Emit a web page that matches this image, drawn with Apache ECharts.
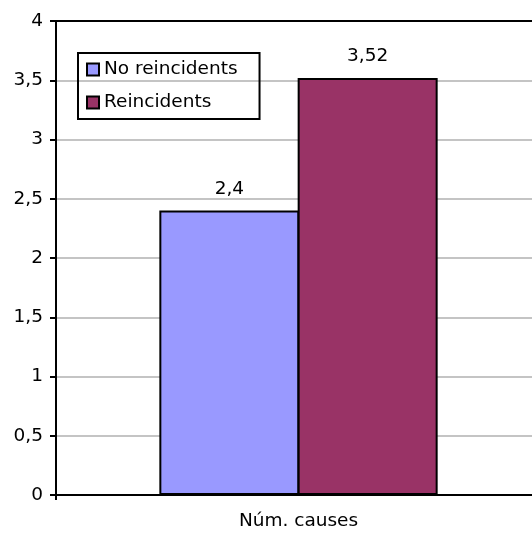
<!DOCTYPE html>
<html><head><meta charset="utf-8">
<script src="https://cdn.jsdelivr.net/npm/echarts@6/dist/echarts.min.js"></script>
<style>html,body{margin:0;padding:0;background:#fff;overflow:hidden}#c{width:560px;height:534px}</style>
</head><body><div id="c"></div>
<script>
var categories = ['Núm. causes'];
var seriesNames = ['No reincidents', 'Reincidents'];
var noReincidents = [2.4];
var reincidents = [3.52];
var yTicks = [0, 0.5, 1, 1.5, 2, 2.5, 3, 3.5, 4];

var FONT = 'DejaVu Sans, Liberation Sans, sans-serif';
var FS = 18.5;
function fmt(v){ return String(v).replace('.', ','); }

var chart = echarts.init(document.getElementById('c'), null, {renderer:'canvas'});
chart.setOption({
  animation: false,
  backgroundColor: '#fff',
  grid: {left: 56, top: 21, width: 485, height: 474, containLabel: false},
  legend: {
    orient: 'vertical', left: 78, top: 53,
    data: seriesNames,
    icon: 'rect', itemWidth: 12, itemHeight: 12, itemGap: 14, itemTextGap: 6,
    itemStyle: {borderColor: '#000', borderWidth: 2},
    borderColor: '#000', borderWidth: 2, padding: [7, 22, 7, 8],
    textStyle: {fontFamily: FONT, fontSize: FS, color: '#000'}
  },
  xAxis: [{
    type: 'category', data: categories, position: 'bottom',
    axisLine: {lineStyle: {color: '#000', width: 2}},
    axisTick: {show: true, length: 5, lineStyle: {color: '#000', width: 2}},
    axisLabel: {fontFamily: FONT, fontSize: FS, color: '#000', margin: 17}
  }, {
    type: 'category', data: categories, position: 'top',
    axisLine: {lineStyle: {color: '#000', width: 2}},
    axisTick: {show: false}, axisLabel: {show: false}
  }],
  yAxis: {
    type: 'value', min: yTicks[0], max: yTicks[yTicks.length-1], interval: 0.5,
    axisLine: {show: true, lineStyle: {color: '#000', width: 2}},
    axisTick: {show: true, length: 6, lineStyle: {color: '#000', width: 2}},
    axisLabel: {fontFamily: FONT, fontSize: FS, color: '#000', margin: 13, formatter: fmt},
    splitLine: {show: true, lineStyle: {color: '#c4c4c4', width: 2}}
  },
  series: [{
    name: seriesNames[0], type: 'bar', data: noReincidents, barWidth: 140, barGap: '-1.2%',
    itemStyle: {color: '#9999ff', borderColor: '#000', borderWidth: 2},
    label: {show: true, position: 'top', distance: 12, fontFamily: FONT, fontSize: FS, color: '#000', formatter: function(p){return fmt(p.value);}}
  }, {
    name: seriesNames[1], type: 'bar', data: reincidents, barWidth: 140, barGap: '-1.2%',
    itemStyle: {color: '#993366', borderColor: '#000', borderWidth: 2},
    label: {show: true, position: 'top', distance: 12, fontFamily: FONT, fontSize: FS, color: '#000', formatter: function(p){return fmt(p.value);}}
  }]
});
</script></body></html>
